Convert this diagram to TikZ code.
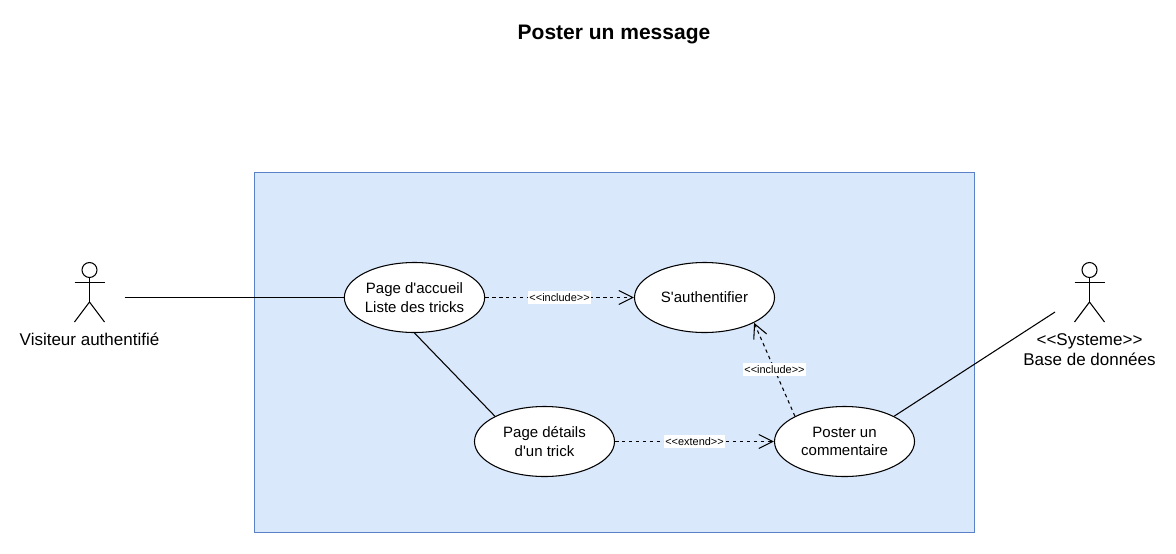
\documentclass[tikz,border=0pt]{standalone}
\usepackage{fontspec}
\setmainfont{Liberation Sans}[Ligatures=TeXOff]
\usetikzlibrary{arrows.meta,shapes.geometric}

\begin{document}
\begin{tikzpicture}[
    x=0.75pt, y=-0.75pt,
    >={Straight Barb[length=10.5pt,width=10.5pt]},
    line width=0.8pt,
    usecase/.style={draw, ellipse, fill=white, minimum width=105pt, minimum height=52.5pt, inner sep=0pt, align=center, font=\fontsize{11.25}{13.7}\selectfont},
    actorlabel/.style={align=center, font=\fontsize{12.75}{15}\selectfont},
    stereotype/.style={fill=white, inner xsep=0.8pt, inner ysep=1.5pt, font=\fontsize{8.2}{9}\selectfont},
    link/.style={draw, dashed, dash pattern=on 2.6pt off 2.6pt, ->}
]
\useasboundingbox (0,0) rectangle (1176,553);

% ========== Titre et cadre du systeme ==========
\node[font=\bfseries\fontsize{15.75}{18}\selectfont] (titre) at (614,35) {Poster un message};
\draw[fill={rgb,255:red,218;green,232;blue,252}, draw={rgb,255:red,90;green,130;blue,200}] (254.5,172.5) rectangle (974.5,532.5);

% ========== Acteurs ==========
\foreach \name/\x in {visiteur/89.5, systeme/1089.5} {
    \draw (\x,270) circle (7.5); % tete
    \draw (\x,277.5) -- (\x,302); % corps
    \draw (\x-15,282.5) -- (\x+15,282.5); % bras
    \draw (\x-15,322) -- (\x,302) -- (\x+15,322); % jambes
}
\node[actorlabel] (visiteur) at (89.5,339.5) {Visiteur authentifié};
\node[actorlabel] (systeme) at (1089.5,349.5) {<<Systeme>>\\Base de données};

% ========== Cas d'utilisation ==========
\node[usecase] (accueil) at (414.5,297.5) {Page d'accueil\\Liste des tricks};
\node[usecase] (auth) at (704.5,297.5) {S'authentifier};
\node[usecase] (details) at (544.5,441.5) {Page détails\\d'un trick};
\node[usecase] (poster) at (844.5,441.5) {Poster un\\commentaire};

% extremites libres des associations
\coordinate (visiteurfin) at (124.5,297.5);
\coordinate (systemefin) at (1055,312);

% ========== Liens ==========
\draw (visiteurfin) -- (accueil.west);
\draw (systemefin) -- (poster.27);
\draw (accueil.south) -- (details.153);
\draw[link] (accueil.east) -- node[stereotype] {<<include>>} (auth.west);
\draw[link] (details.east) -- node[stereotype] {<<extend>>} (poster.west);
\draw[link] (poster.153) -- node[stereotype] {<<include>>} (auth.-27);

\end{tikzpicture}
\end{document}
